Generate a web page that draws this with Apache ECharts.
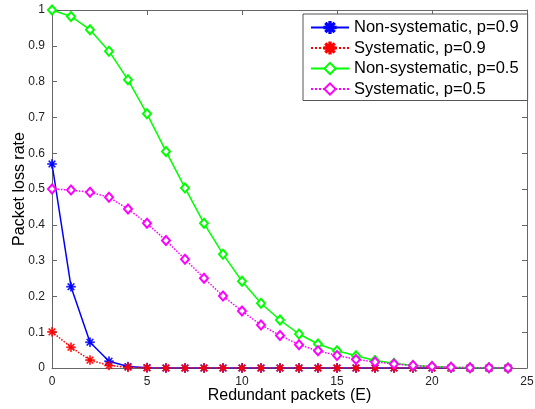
<!DOCTYPE html>
<html><head><meta charset="utf-8">
<script src="https://cdn.jsdelivr.net/npm/echarts@6/dist/echarts.min.js"></script>
<style>html,body{margin:0;padding:0;background:#fff}#c{width:535px;height:409px}</style>
</head><body><div id="c"></div>
<script>
const E = [0,1,2,3,4,5,6,7,8,9,10,11,12,13,14,15,16,17,18,19,20,21,22,23,24];
const nonSys09 = [0.57,0.227,0.072,0.019,0.004,0.001,0,0,0,0,0,0,0,0,0,0,0,0,0,0,0,0,0,0,0];
const sys09    = [0.101,0.058,0.022,0.007,0.002,0.0005,0,0,0,0,0,0,0,0,0,0,0,0,0,0,0,0,0,0,0];
const nonSys05 = [1.0,0.982,0.945,0.885,0.805,0.71,0.605,0.503,0.404,0.318,0.242,0.181,0.134,0.095,0.067,0.048,0.034,0.021,0.013,0.007,0.004,0.002,0.001,0.0005,0.0003];
const sys05    = [0.5,0.497,0.491,0.477,0.444,0.404,0.356,0.304,0.251,0.201,0.159,0.12,0.091,0.065,0.048,0.035,0.024,0.017,0.011,0.007,0.004,0.002,0.001,0.0005,0.0003];
const names = ['Non-systematic, p=0.9','Systematic, p=0.9','Non-systematic, p=0.5','Systematic, p=0.5'];

const ast = 'path://M-1.2,-10L1.2,-10L1.2,10L-1.2,10Z M-10,-1.2L10,-1.2L10,1.2L-10,1.2Z M-7.9,-6.2L6.2,7.9L7.9,6.2L-6.2,-7.9Z M6.2,-7.9L7.9,-6.2L-6.2,7.9L-7.9,6.2Z';
const pairs = v => E.map((x,i)=>[x,v[i]]);
const font = 'Liberation Sans, Arial, sans-serif';
const axisCol = '#666';

function mk(name, vals, color, type, symbol, size){
  const isDia = symbol === 'diamond';
  return {
    name, type:'line', data: pairs(vals), symbol: isDia ? 'emptyDiamond' : symbol,
    symbolSize: size, showAllSymbol:true,
    lineStyle:{color, width:1.5, type},
    itemStyle:{color, borderColor:color, borderWidth: isDia?1.5:0.5},
    emphasis:{disabled:true}, animation:false
  };
}
function frameAxis(pos, extra){
  return Object.assign({
    type:'value', position:pos,
    axisLine:{show:true, onZero:false, lineStyle:{color:axisCol}},
    axisTick:{show:true, inside:true, length:5, lineStyle:{color:axisCol}},
    splitLine:{show:false}
  }, extra);
}

const chart = echarts.init(document.getElementById('c'), null, {renderer:'canvas'});
chart.setOption({
  backgroundColor:'#fff',
  animation:false,
  grid:{left:52, right:8, top:10, bottom:41, show:false, containLabel:false, outerBoundsMode:'none'},
  legend:{
    orient:'vertical', left:303, top:14,
    itemWidth:38, itemHeight:14, itemGap:3.5,
    padding:[5,9,3,7],
    backgroundColor:'#fff', borderColor:'#555', borderWidth:1,
    textStyle:{fontFamily:font, fontSize:16.5, color:'#000'},
    data:names
  },
  xAxis:[
    frameAxis('bottom', {min:0, max:25, interval:5,
      name:'Redundant packets (E)', nameLocation:'middle', nameGap:20, nameMoveOverlap:false,
      nameTextStyle:{fontFamily:font, fontSize:16, color:'#000'},
      axisLabel:{fontFamily:font, fontSize:12, color:'#222', margin:8}}),
    frameAxis('top', {min:0, max:25, interval:5, axisLabel:{show:false}})
  ],
  yAxis:[
    frameAxis('left', {min:0, max:1, interval:0.1,
      name:'Packet loss rate', nameLocation:'middle', nameGap:24, nameMoveOverlap:false,
      nameTextStyle:{fontFamily:font, fontSize:16, color:'#000'},
      axisLabel:{fontFamily:font, fontSize:12, color:'#222', margin:7,
        formatter: v => String(Math.round(v*10)/10)}}),
    frameAxis('right', {min:0, max:1, interval:0.1, axisLabel:{show:false}})
  ],
  series:[
    mk(names[0], nonSys09, '#0000ff', 'solid', ast, 9),
    mk(names[1], sys09, '#ff0000', 'dotted', ast, 9),
    mk(names[2], nonSys05, '#00ff00', 'solid', 'diamond', [8,9]),
    mk(names[3], sys05, '#ff00ff', 'dotted', 'diamond', [8,9])
  ]
});
</script></body></html>
